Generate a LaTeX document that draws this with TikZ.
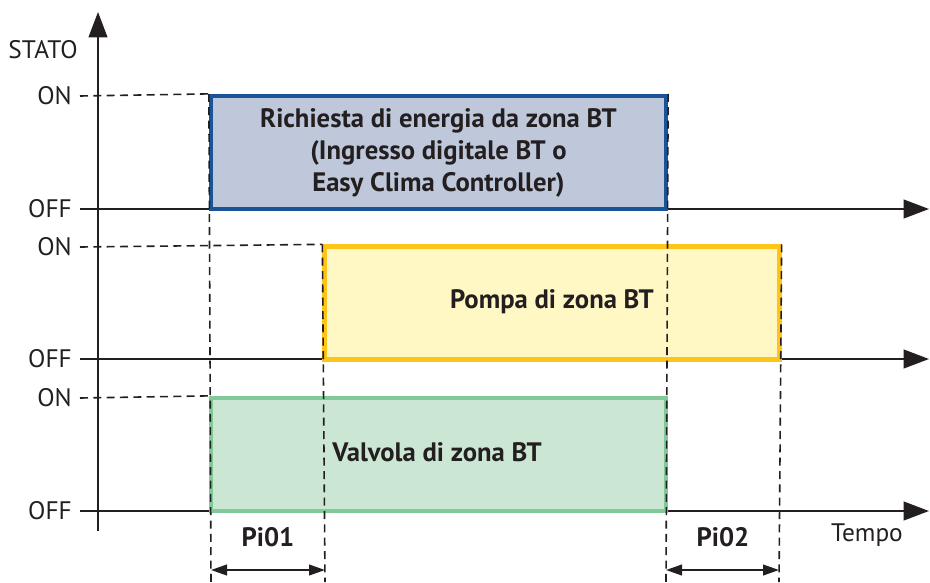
\documentclass[tikz,border=0pt]{standalone}
\usepackage{fontspec}
\setmainfont{PT Sans}
\usetikzlibrary{arrows.meta}
\definecolor{axisgray}{HTML}{231F20}
\definecolor{reqline}{HTML}{1A5496}
\definecolor{reqfill}{HTML}{BFC8DB}
\definecolor{pumpline}{HTML}{FFC419}
\definecolor{pumpfill}{HTML}{FFF8C4}
\definecolor{valveline}{HTML}{80CA9A}
\definecolor{valvefill}{HTML}{CCE6D4}
\begin{document}
\begin{tikzpicture}[x=0.75pt, y=-0.75pt,
    font=\fontsize{19}{23}\selectfont,
    lbl/.style={anchor=east, inner sep=0pt, text=axisgray},
    boldtxt/.style={font=\fontsize{20}{24}\selectfont\bfseries, text=axisgray},
    stato/.style={rectangle, line width=3.2pt, minimum width=341.25pt, minimum height=84.75pt, inner sep=0pt, align=center, boldtxt},
    axis/.style={draw=axisgray, line width=1.5pt, -{Triangle[length=19pt, width=14pt]}},
    guide/.style={draw=axisgray, line width=1.2pt, dash pattern=on 6pt off 4pt},
    span/.style={draw=axisgray, line width=1.5pt, {Triangle[length=12pt, width=8pt]}-{Triangle[length=12pt, width=8pt]}}]
    \useasboundingbox (0,0) rectangle (930,582);

    % Axis
    \coordinate (ybot) at (98,531);
    \coordinate (ytop) at (98,12);
    \node (stato) [text=axisgray] at (43,50) {STATO};
    \draw[axis] (ybot) -- (ytop);

    % State labels
    \node (on1) [lbl] at (72,96) {ON};
    \node (off1) [lbl] at (72,209) {OFF};
    \node (on2) [lbl] at (72,247) {ON};
    \node (off2) [lbl] at (72,359) {OFF};
    \node (on3) [lbl] at (72,398) {ON};
    \node (off3) [lbl] at (72,511) {OFF};
    \coordinate (end1) at (929,209);
    \coordinate (end2) at (929,359);
    \coordinate (end3) at (929,511);
    \draw[axis] ([xshift=6]off1.east) -- (end1);
    \draw[axis] ([xshift=6]off2.east) -- (end2);
    \draw[axis] ([xshift=6]off3.east) -- (end3);

    % State boxes
    \node (req) [stato, draw=reqline, fill=reqfill] at (438.5,152.5)
        {Richiesta di energia da zona BT\\(Ingresso digitale BT o\\Easy Clima Controller)};
    \node (pump) [stato, draw=pumpline, fill=pumpfill] at (552,303) {};
    \node (pumptxt) [boldtxt] at (552,302) {Pompa di zona BT};
    \node (valve) [stato, draw=valveline, fill=valvefill] at (438.5,454.5) {};
    \node (valvetxt) [boldtxt] at (437,452) {Valvola di zona BT};

    % Guides
    \coordinate (g1) at (211,582);
    \coordinate (g2) at (325,582);
    \coordinate (g3) at (666,582);
    \coordinate (g4) at (779,582);
    \draw[guide] ([xshift=6]on1.east) -- (req.north west);
    \draw[guide] ([xshift=6]on2.east) -- (pump.north west);
    \draw[guide] ([xshift=6]on3.east) -- (valve.north west);
    \draw[guide] (req.north west) -- (g1);
    \draw[guide] (pump.north west) -- (g2);
    \draw[guide] (req.north east) -- (g3);
    \draw[guide] (pump.north east) -- (g4);

    % Delays
    \coordinate (p1a) at (211,570);
    \coordinate (p1b) at (325,570);
    \coordinate (p2a) at (666,570);
    \coordinate (p2b) at (779,570);
    \draw[span] (p1a) -- (p1b);
    \draw[span] (p2a) -- (p2b);
    \node (pi01) [boldtxt] at (268,537) {Pi01};
    \node (pi02) [boldtxt] at (723,537) {Pi02};
    \node (tempo) [text=axisgray] at (867,535) {Tempo};

\end{tikzpicture}
\end{document}
